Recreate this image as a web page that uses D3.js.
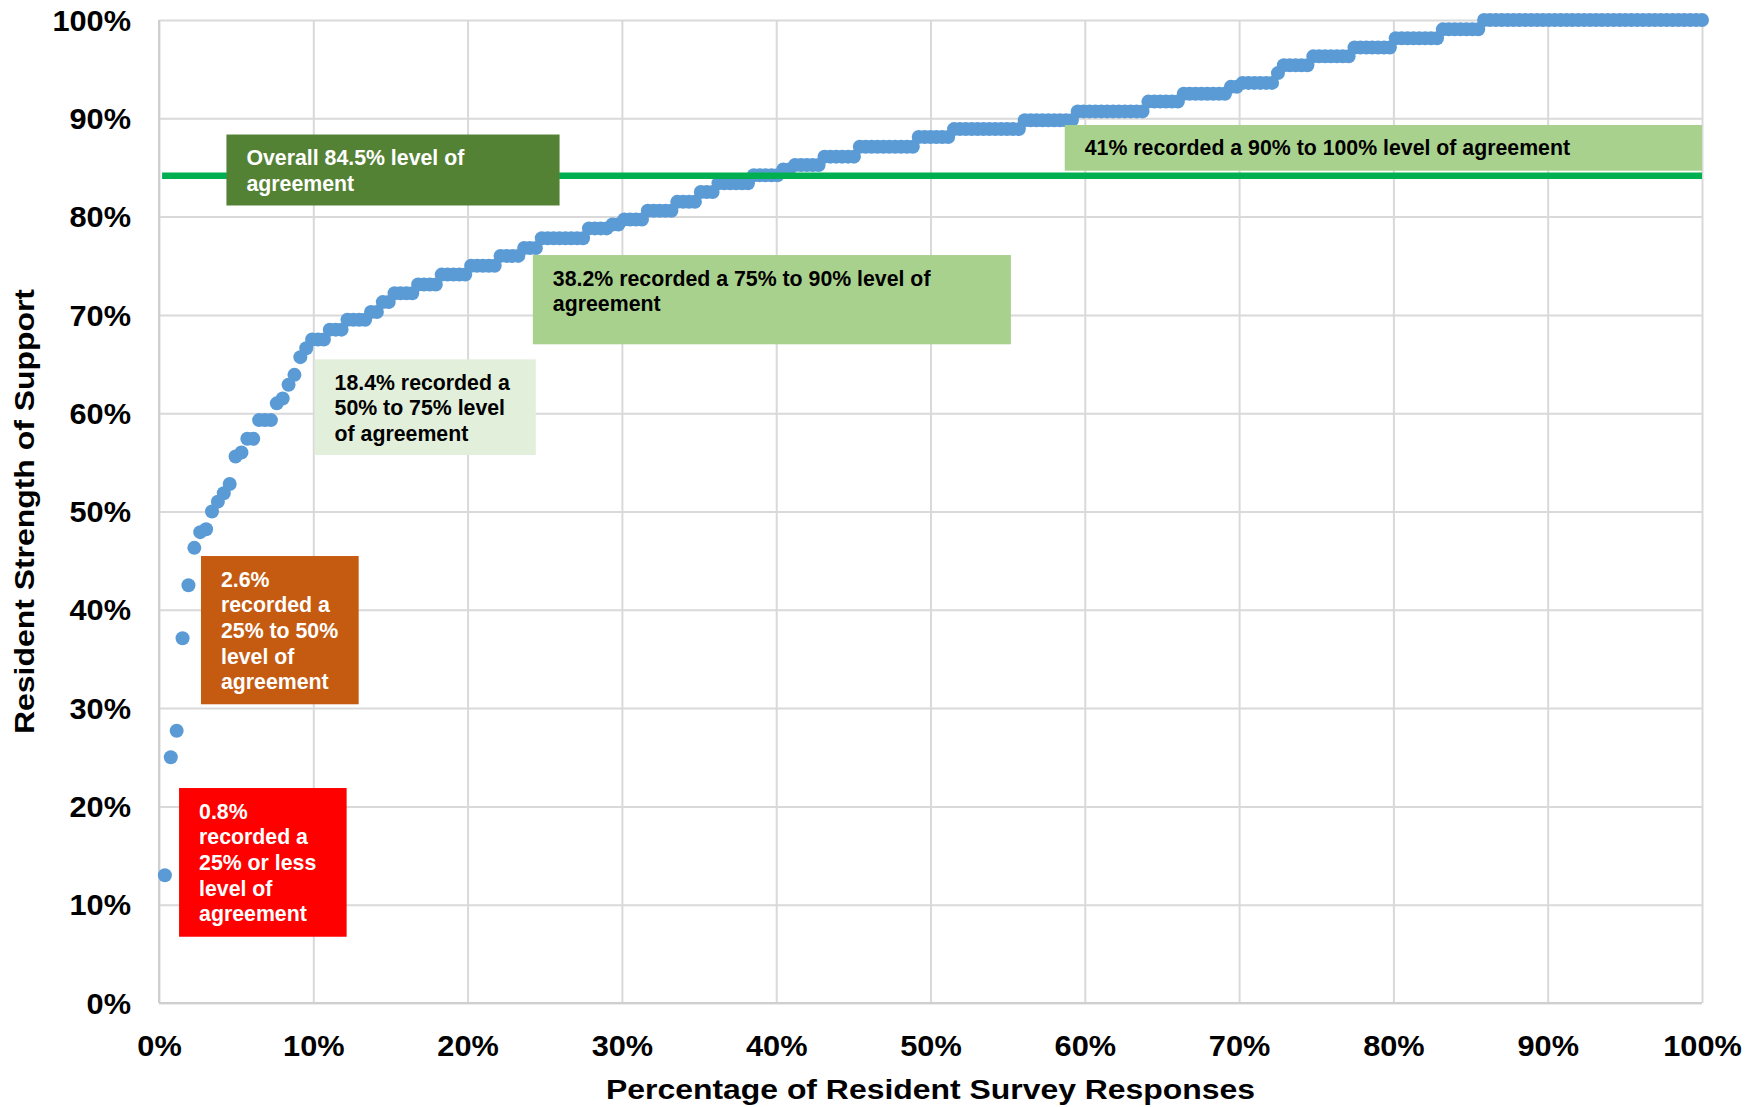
<!DOCTYPE html>
<html><head><meta charset="utf-8">
<script src="https://cdn.jsdelivr.net/npm/d3@7"></script>
<style>html,body{margin:0;padding:0;background:#fff;} svg{display:block;}</style>
</head><body><svg id="chart" width="1758" height="1107"></svg>
<script>
// ---------- DATA ----------
// distinct agreement levels (% of agreement) in ascending order
const agreementLevels = [13.0, 25.0, 27.7, 37.1, 42.5, 46.3, 47.9, 48.2, 50.0, 51.0, 51.85, 52.8, 55.6, 56.0, 57.4, 59.3,
  61.0, 61.5, 62.9, 63.9, 65.7, 66.6, 67.5, 68.5, 69.5, 70.3, 71.3, 72.2, 73.1, 74.1, 75.0, 76.0, 76.8, 77.8, 78.8, 79.2,
  79.7, 80.6, 81.5, 82.5, 83.4, 84.2, 84.8, 85.25, 86.1, 87.1, 88.1, 88.9, 89.8, 90.7, 91.7, 92.5, 93.2, 93.6, 94.6,
  95.4, 96.3, 97.2, 98.15, 99.05, 100];
// number of survey responses recorded at each level
const responseCounts = [1, 1, 1, 1, 1, 1, 1, 1, 1, 1, 1, 1, 1, 1, 2, 3,
  1, 1, 1, 1, 1, 1, 3, 3, 4, 2, 2, 4, 4, 5, 5, 4, 3, 8, 4, 2,
  4, 5, 4, 3, 6, 5, 2, 5, 6, 10, 6, 12, 9, 12, 6, 8, 2, 6, 1,
  5, 7, 7, 8, 7, 38];
const averageAgreement = 84.15;
const averageLineStart = 0.2;
const xTickValues = [0, 10, 20, 30, 40, 50, 60, 70, 80, 90, 100];
const yTickValues = [0, 10, 20, 30, 40, 50, 60, 70, 80, 90, 100];
const xTitle = "Percentage of Resident Survey Responses";
const yTitle = "Resident Strength of Support";
const noteLines = [
  ["Overall 84.5% level of", "agreement"],
  ["41% recorded a 90% to 100% level of agreement"],
  ["38.2% recorded a 75% to 90% level of", "agreement"],
  ["18.4% recorded a", "50% to 75% level", "of agreement"],
  ["2.6%", "recorded a", "25% to 50%", "level of", "agreement"],
  ["0.8%", "recorded a", "25% or less", "level of", "agreement"]
];

// ---------- LAYOUT / STYLE ----------
const W = 1758, H = 1107;
const plot = {left: 159, right: 1702, top: 20, bottom: 1003};
// annotation box extents in data units [x0, x1, y0, y1] and colours
const noteBoxes = [
  {ext: [4.37, 25.96, 81.13, 88.35], fill: "#548235", color: "#ffffff"},
  {ext: [58.70, 100.0, 84.67, 89.32], fill: "#A9D18E", color: "#000000"},
  {ext: [24.23, 55.21, 67.01, 76.09], fill: "#A9D18E", color: "#000000"},
  {ext: [10.08, 24.42, 55.75, 65.48], fill: "#E2EFDA", color: "#000000"},
  {ext: [2.72, 12.94, 30.39, 45.47], fill: "#C55A11", color: "#ffffff"},
  {ext: [1.30, 12.16, 6.74, 21.87], fill: "#FF0000", color: "#ffffff"}
];
const FONT = "'Liberation Sans', Arial, Helvetica, sans-serif";
const TICK_SX = 1.06, TITLE_SX = 1.14;

const svg = d3.select("#chart");
const x = d3.scaleLinear().domain([0, 100]).range([plot.left, plot.right]);
const y = d3.scaleLinear().domain([0, 100]).range([plot.bottom, plot.top]);

// expand runs into individual responses ranked in order
const total = d3.sum(responseCounts);
const points = [];
let rank = 0;
agreementLevels.forEach((lv, i) => {
  for (let j = 0; j < responseCounts[i]; j++) { rank++; points.push({px: rank / total * 100, val: lv}); }
});

// gridlines
const gx = svg.append("g").attr("transform", `translate(0,${plot.bottom})`)
  .call(d3.axisBottom(x).tickValues(xTickValues).tickSize(-(plot.bottom - plot.top)).tickFormat(""));
gx.select(".domain").remove();
gx.selectAll(".tick line").attr("stroke", "#D9D9D9").attr("stroke-width", 2);
const gy = svg.append("g").attr("transform", `translate(${plot.left},0)`)
  .call(d3.axisLeft(y).tickValues(yTickValues).tickSize(-(plot.right - plot.left)).tickFormat(""));
gy.select(".domain").remove();
gy.selectAll(".tick line").attr("stroke", "#D9D9D9").attr("stroke-width", 2);
// axis lines
svg.append("line").attr("x1", x(0)).attr("x2", x(0)).attr("y1", y(0)).attr("y2", y(100))
  .attr("stroke", "#CFCFCF").attr("stroke-width", 2);
svg.append("line").attr("x1", x(0)).attr("x2", x(100)).attr("y1", y(0)).attr("y2", y(0))
  .attr("stroke", "#CFCFCF").attr("stroke-width", 2);

// tick labels
const yl = svg.append("g").attr("transform", `translate(${plot.left},0)`)
  .call(d3.axisLeft(y).tickValues(yTickValues).tickSize(0).tickFormat(d => d + "%"));
yl.select(".domain").remove();
yl.selectAll(".tick text").attr("x", 0).attr("dy", "0.35em")
  .attr("transform", `translate(-28,0) scale(${TICK_SX},1)`)
  .attr("text-anchor", "end")
  .style("font-family", FONT).style("font-weight", "bold").style("font-size", "29px").attr("fill", "#000");
const xl = svg.append("g").attr("transform", `translate(0,${plot.bottom})`)
  .call(d3.axisBottom(x).tickValues(xTickValues).tickSize(0).tickFormat(d => d + "%"));
xl.select(".domain").remove();
xl.selectAll(".tick text").attr("y", 0).attr("dy", 0)
  .attr("transform", `translate(0,53) scale(${TICK_SX},1)`)
  .style("font-family", FONT).style("font-weight", "bold").style("font-size", "29px").attr("fill", "#000");

// points
svg.append("g").selectAll("circle").data(points).join("circle")
  .attr("cx", d => x(d.px)).attr("cy", d => y(d.val)).attr("r", 7)
  .attr("fill", "#5B9BD5");

// average line
svg.append("line").attr("x1", x(averageLineStart)).attr("x2", x(100))
  .attr("y1", y(averageAgreement)).attr("y2", y(averageAgreement))
  .attr("stroke", "#00B050").attr("stroke-width", 6.5);

// annotation boxes
noteBoxes.forEach((b, i) => {
  const [x0, x1, y0, y1] = b.ext;
  const g = svg.append("g").attr("transform", `translate(${x(x0)},${y(y1)})`);
  g.append("rect").attr("width", x(x1) - x(x0)).attr("height", y(y0) - y(y1)).attr("fill", b.fill);
  const t = g.append("text").attr("x", 20).attr("y", 30.5)
    .style("font-family", FONT).style("font-weight", "bold").style("font-size", "21.3px").attr("fill", b.color);
  noteLines[i].forEach((ln, k) => {
    t.append("tspan").attr("x", 20).attr("y", 30.5 + k * 25.67).text(ln);
  });
});

// axis titles
svg.append("text").attr("text-anchor", "middle")
  .attr("transform", `translate(${(plot.left + plot.right) / 2},1099) scale(${TITLE_SX},1)`)
  .style("font-family", FONT).style("font-weight", "bold").style("font-size", "28px").text(xTitle);
svg.append("text").attr("text-anchor", "middle")
  .attr("transform", `translate(34,${(plot.top + plot.bottom) / 2}) rotate(-90) scale(${TITLE_SX},1)`)
  .style("font-family", FONT).style("font-weight", "bold").style("font-size", "28px").text(yTitle);
</script></body></html>
